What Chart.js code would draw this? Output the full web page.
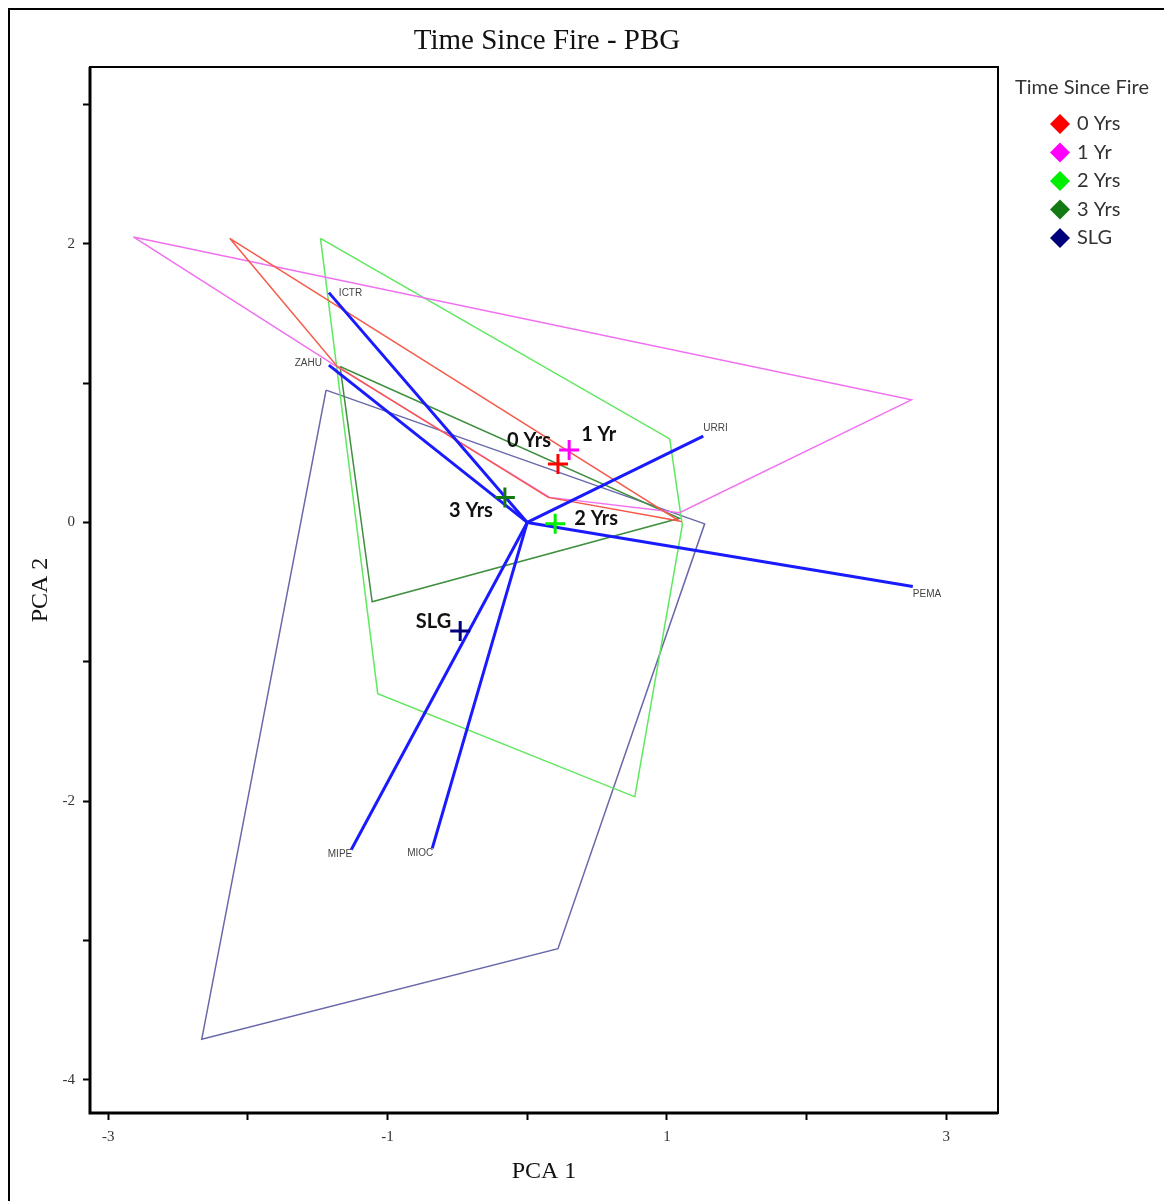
<!DOCTYPE html>
<html>
<head>
<meta charset="utf-8">
<title>Time Since Fire - PBG</title>
<script src="https://cdn.jsdelivr.net/npm/chart.js@4.4.1/dist/chart.umd.min.js"></script>
<style>
  html, body { margin: 0; padding: 0; background: #fff; }
  canvas { display: block; }
</style>
</head>
<body>
<canvas id="graficoPCA" width="1164" height="1201"></canvas>
<script>
// grupos (tempo desde o fogo)
const grupos = ['0 Yrs', '1 Yr', '2 Yrs', '3 Yrs', 'SLG'];
const coresGrupo = ['#ff0000', '#ff00ff', '#00ee00', '#137a13', '#00007a'];
const coresPoligono = ['#f55b4b', '#f070f0', '#5ee85e', '#3f8f3f', '#6868aa'];

// centroides de cada grupo
const centroX = [0.22, 0.30, 0.20, -0.16, -0.48];
const centroY = [0.42, 0.52, -0.01, 0.18, -0.78];

// poligonos (envoltorias) de cada grupo
const poligonoX = [
    [-2.13, 1.09, 0.15, -1.36],
    [-2.82, 2.75, 1.09, 0.16, -1.38],
    [-1.48, 1.02, 1.11, 0.77, -1.07],
    [-1.34, 1.09, -1.11],
    [-1.44, 1.27, 0.22, -2.33]
];
const poligonoY = [
    [2.04, 0.01, 0.18, 1.12],
    [2.05, 0.88, 0.07, 0.18, 1.13],
    [2.04, 0.60, -0.02, -1.97, -1.23],
    [1.12, 0.03, -0.57],
    [0.95, -0.01, -3.06, -3.71]
];

// vetores das variaveis
const variaveis = ['ICTR', 'ZAHU', 'URRI', 'PEMA', 'MIPE', 'MIOC'];
const vetorX = [-1.42, -1.42, 1.26, 2.76, -1.26, -0.68];
const vetorY = [1.65, 1.13, 0.62, -0.46, -2.35, -2.34];

// eixos
const ticksX = [-3, -2, -1, 0, 1, 2, 3];
const rotulosX = ['-3', '', '-1', '', '1', '', '3'];
const ticksY = [-4, -3, -2, -1, 0, 1, 2, 3];
const rotulosY = ['-4', '', '-2', '', '0', '', '2', ''];

// deslocamento dos textos (px) e alinhamento
const offsetVetor = [[10, 1, 'left'], [-7, -2, 'right'], [0, -8, 'left'], [0, 8, 'left'], [1, 4, 'right'], [1, 5, 'right']];
const offsetCentro = [[-7, -23, 'right'], [12, -15, 'left'], [19, -5, 'left'], [-12, 13, 'right'], [-9, -10, 'right']];

const serif = '"Liberation Serif", "Times New Roman", serif';
const sans = 'Lato, "Open Sans", sans-serif';

const datasets = [];

// centroides (desenhados por cima)
grupos.forEach((g, i) => {
    datasets.push({
        label: g,
        data: [{ x: centroX[i], y: centroY[i] }],
        pointStyle: 'cross',
        pointRadius: 10,
        borderWidth: 3,
        borderColor: coresGrupo[i],
        backgroundColor: coresGrupo[i],
        order: 0
    });
});

// vetores a partir da origem
variaveis.forEach((v, i) => {
    datasets.push({
        label: v,
        data: [{ x: 0, y: 0 }, { x: vetorX[i], y: vetorY[i] }],
        showLine: true,
        pointRadius: 0,
        borderColor: '#1a1aff',
        borderWidth: 3,
        order: 1
    });
});

// poligonos
grupos.forEach((g, i) => {
    const pts = poligonoX[i].map((vx, j) => ({ x: vx, y: poligonoY[i][j] }));
    pts.push(pts[0]);
    datasets.push({
        label: 'hull ' + g,
        data: pts,
        showLine: true,
        pointRadius: 0,
        borderColor: coresPoligono[i],
        borderWidth: 1.5,
        order: 2
    });
});

// plugin para titulo, rotulos, legenda e molduras
const extras = {
    id: 'extras',
    afterDatasetsDraw(chart) {
        const { ctx, scales: { x, y } } = chart;
        ctx.save();
        ctx.font = '10px "Liberation Sans", Arial, sans-serif';
        ctx.fillStyle = '#444';
        ctx.textBaseline = 'middle';
        variaveis.forEach((v, i) => {
            const o = offsetVetor[i];
            ctx.textAlign = o[2];
            ctx.fillText(v, x.getPixelForValue(vetorX[i]) + o[0], y.getPixelForValue(vetorY[i]) + o[1]);
        });
        ctx.font = 'bold 20px ' + sans;
        ctx.fillStyle = '#111';
        grupos.forEach((g, i) => {
            const o = offsetCentro[i];
            ctx.textAlign = o[2];
            ctx.fillText(g, x.getPixelForValue(centroX[i]) + o[0], y.getPixelForValue(centroY[i]) + o[1]);
        });
        ctx.restore();
    },
    afterDraw(chart) {
        const { ctx, chartArea: a } = chart;
        ctx.save();
        // moldura do grafico
        ctx.strokeStyle = '#000';
        ctx.lineWidth = 2;
        ctx.strokeRect(a.left, a.top, a.right - a.left, a.bottom - a.top);
        ctx.lineWidth = 3;
        ctx.beginPath();
        ctx.moveTo(a.left, a.top);
        ctx.lineTo(a.left, a.bottom);
        ctx.lineTo(a.right, a.bottom);
        ctx.stroke();
        // moldura externa
        ctx.lineWidth = 2;
        ctx.beginPath();
        ctx.moveTo(9, chart.height);
        ctx.lineTo(9, 9);
        ctx.lineTo(chart.width, 9);
        ctx.stroke();
        // titulo
        ctx.fillStyle = '#111';
        ctx.font = '29px ' + serif;
        ctx.textAlign = 'center';
        ctx.textBaseline = 'middle';
        ctx.fillText('Time Since Fire - PBG', (a.left + a.right) / 2 + 3, 41);
        // legenda
        ctx.font = '20px ' + sans;
        ctx.fillStyle = '#333';
        ctx.textAlign = 'left';
        ctx.fillText('Time Since Fire', 1015, 88);
        grupos.forEach((g, i) => {
            const cy = 124 + i * 28.5;
            ctx.fillStyle = coresGrupo[i];
            ctx.beginPath();
            ctx.moveTo(1060, cy - 10);
            ctx.lineTo(1070, cy);
            ctx.lineTo(1060, cy + 10);
            ctx.lineTo(1050, cy);
            ctx.closePath();
            ctx.fill();
            ctx.fillStyle = '#333';
            ctx.fillText(g, 1077, cy);
        });
        ctx.restore();
    }
};

const ctx = document.getElementById('graficoPCA').getContext('2d');

const meuGrafico = new Chart(ctx, {
    type: 'scatter',
    data: { datasets: datasets },
    plugins: [extras],
    options: {
        responsive: false,
        animation: false,
        devicePixelRatio: 1,
        layout: { padding: { top: 67, right: 166, bottom: 0, left: 0 } },
        plugins: {
            legend: { display: false },
            title: { display: false },
            tooltip: { enabled: false }
        },
        scales: {
            x: {
                type: 'linear',
                min: -3.13,
                max: 3.37,
                afterFit: s => { s.height = 88; },
                afterBuildTicks: s => { s.ticks = ticksX.map(v => ({ value: v })); },
                grid: { drawOnChartArea: false, drawTicks: true, tickLength: 7, tickColor: '#000', tickWidth: 2 },
                border: { display: false },
                ticks: {
                    padding: 8,
                    color: '#333',
                    font: { family: serif, size: 15 },
                    callback: v => rotulosX[ticksX.indexOf(v)] ?? ''
                },
                title: { display: true, text: 'PCA 1', color: '#111', font: { family: serif, size: 24 }, padding: { top: 0, bottom: 15 } }
            },
            y: {
                type: 'linear',
                min: -4.24,
                max: 3.27,
                afterFit: s => { s.width = 90; },
                afterBuildTicks: s => { s.ticks = ticksY.map(v => ({ value: v })); },
                grid: { drawOnChartArea: false, drawTicks: true, tickLength: 7, tickColor: '#000', tickWidth: 2 },
                border: { display: false },
                ticks: {
                    padding: 8,
                    color: '#333',
                    font: { family: serif, size: 15 },
                    callback: v => rotulosY[ticksY.indexOf(v)] ?? ''
                },
                title: { display: true, text: 'PCA 2', color: '#111', font: { family: serif, size: 24 }, padding: { top: 26, bottom: 0 } }
            }
        }
    }
});
</script>
</body>
</html>
